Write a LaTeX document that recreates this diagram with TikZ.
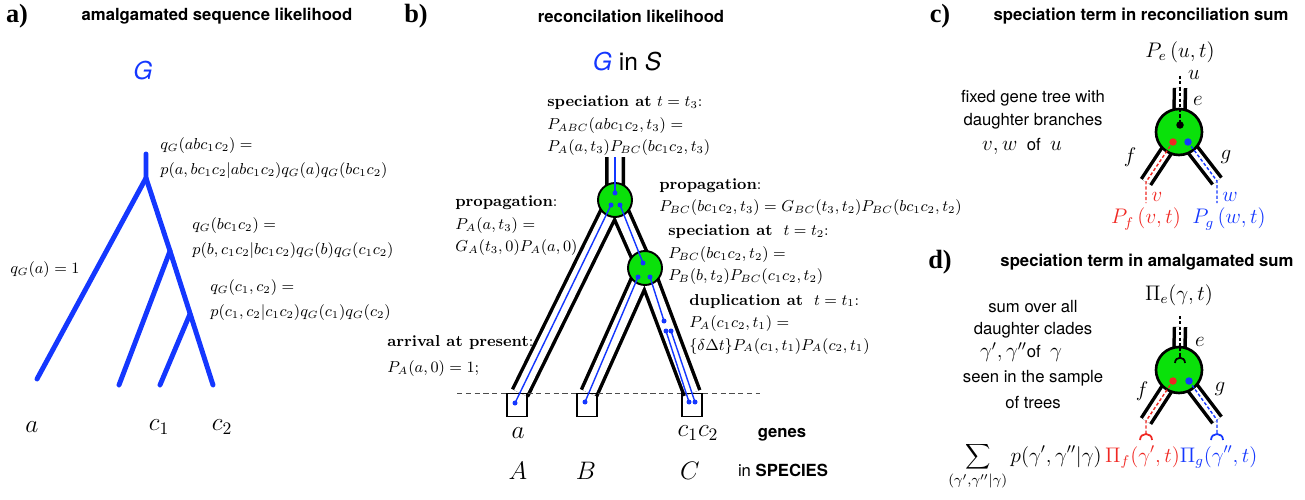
\documentclass[tikz,border=0pt]{standalone}
\usepackage{fontspec}
\newfontfamily\hv{TeX Gyre Heros}
\newfontfamily\tms{Liberation Serif}
\definecolor{gblue}{RGB}{20,55,255}
\definecolor{gred}{RGB}{240,40,35}
\definecolor{sgreen}{RGB}{10,225,10}
\begin{document}
\begin{tikzpicture}[x=0.02cm,y=-0.02cm,
  panel/.style={font=\tms\bfseries\fontsize{15}{18}\selectfont, inner sep=0pt},
  head/.style={font=\hv\bfseries\fontsize{9.5}{11}\selectfont, inner sep=0pt},
  sans/.style={font=\hv\fontsize{9.5}{11}\selectfont, inner sep=0pt},
  eqa/.style={font=\fontsize{9.2}{14.2}\selectfont, align=left, anchor=west, inner sep=0pt},
  eqb/.style={font=\fontsize{9}{12.8}\selectfont, align=left, anchor=west, inner sep=0pt},
  big/.style={font=\fontsize{12}{14}\selectfont, inner sep=0pt},
  leaf/.style={font=\fontsize{14}{16}\selectfont, inner sep=0pt},
  gtree/.style={gblue, line width=2.8pt, line cap=round, line join=round},
  tubeout/.style={line width=0.4cm, line join=round},
  tubein/.style={white, line width=0.26cm, line join=round},
  ctubeout/.style={line width=0.29cm},
  ctubein/.style={white, line width=0.15cm},
  gline/.style={gblue, line width=0.8pt},
  gdot/.style={circle, fill=gblue, inner sep=0pt, minimum size=0.1cm},
  cdot/.style={circle, inner sep=0pt, minimum size=0.15cm},
  dline/.style={line width=0.8pt, dash pattern=on 1.8pt off 1.2pt},
  snode/.style={circle, draw, line width=1.1pt, fill=sgreen, minimum size=0.68cm, inner sep=0pt},
  cnode/.style={circle, draw, line width=1.5pt, fill=sgreen, minimum size=0.92cm, inner sep=0pt},
  leafbox/.style={draw, line width=1.1pt, minimum width=0.4cm, minimum height=0.46cm, inner sep=0pt}]
\useasboundingbox (0,0) rectangle (1305,500);
\node[panel] (pa) at (17,16) {a)};
\node[head] (ta) at (217,16) {amalgamated sequence likelihood};
\node[font=\hv\itshape\fontsize{14}{16}\selectfont, text=gblue, inner sep=0pt] (gA) at (143,71) {G};
\coordinate (aTop) at (146,154);
\coordinate (aRoot) at (146,178);
\coordinate (aA) at (37,379);
\coordinate (aBC) at (170,251);
\coordinate (aB) at (119,385);
\coordinate (aC) at (190,314);
\coordinate (aC1) at (160,385);
\coordinate (aC2) at (213,385);
\draw[gtree] (aTop) -- (aRoot) -- (aA);
\draw[gtree] (aRoot) -- (aBC) -- (aB);
\draw[gtree] (aBC) -- (aC2);
\draw[gtree] (aC) -- (aC1);
\node[eqa] (qroot) at (160,158) {$q_G(abc_1c_2) =$\\$p(a,bc_1c_2|abc_1c_2)q_G(a)q_G(bc_1c_2)$};
\node[eqa] (qbc) at (192,238) {$q_G(bc_1c_2) =$\\$p(b,c_1c_2|bc_1c_2)q_G(b)q_G(c_1c_2)$};
\node[eqa] (qc) at (210,300) {$q_G(c_1,c_2) =$\\$p(c_1,c_2|c_1c_2)q_G(c_1)q_G(c_2)$};
\node[eqa] (qa) at (10,270) {$q_G(a) = 1$};
\node[leaf] (la) at (32,427) {$a$};
\node[leaf] (lc1) at (159,427) {$c_1$};
\node[leaf] (lc2) at (222,427) {$c_2$};
\node[panel] (pb) at (416,16) {b)};
\node[head] (tb) at (631,16) {reconcilation likelihood};
\node[font=\hv\fontsize{14}{16}\selectfont, inner sep=0pt] (gs) at (627,62) {\textcolor{gblue}{\itshape G} in \itshape S};
\coordinate (r0) at (615,157);
\coordinate (s1) at (615,200);
\coordinate (s2) at (645,268);
\coordinate (eA) at (520,393);
\coordinate (eB) at (589,393);
\coordinate (eC) at (692,393);
\coordinate (now0) at (457,393);
\coordinate (now1) at (760,393);
\draw[tubeout] (r0) -- (s1) -- (eA) (s1) -- (s2) -- (eB) (s2) -- (eC);
\draw[tubein] (r0) -- (s1) -- (eA) (s1) -- (s2) -- (eB) (s2) -- (eC);
\draw[densely dashed, black!70, line width=0.5pt] (now0) -- (now1);
\node[snode] (n1) at (s1) {};
\node[snode] (n2) at (s2) {};
\node[leafbox] (bA) at (517,405) {};
\node[leafbox] (bB) at (587,405) {};
\node[leafbox] (bC) at (692,405) {};
\node[gdot] (d1) at (615,193) {};
\node[gdot] (d2) at (611,205) {};
\node[gdot] (d3) at (620,205) {};
\node[gdot] (dA) at (515,403) {};
\node[gdot] (d4) at (643,263) {};
\node[gdot] (d5) at (638,277) {};
\node[gdot] (d6) at (650,277) {};
\node[gdot] (dB) at (585,402) {};
\node[gdot] (d7) at (664,321) {};
\node[gdot] (d8) at (666,331) {};
\node[gdot] (d9) at (671,331) {};
\node[gdot] (dC1) at (689,402) {};
\node[gdot] (dC2) at (695,402) {};
\draw[gline] (r0) -- (d1.center);
\draw[gline] (d2.center) -- (dA.center);
\draw[gline] (d3.center) -- (d4.center);
\draw[gline] (d5.center) -- (dB.center);
\draw[gline] (d6.center) -- (d7.center);
\draw[gline] (d8.center) -- (dC1.center);
\draw[gline] (d9.center) -- (dC2.center);
\node[eqb] (spec3) at (547,126) {\textbf{speciation at} $t=t_3$:\\$P_{ABC}(abc_1c_2,t_3) =$\\$P_A(a,t_3)P_{BC}(bc_1c_2,t_3)$};
\node[eqb] (propA) at (455,226) {\textbf{propagation}:\\$P_A(a,t_3) =$\\$G_A(t_3,0)P_A(a,0)$};
\node[eqb] (propBC) at (659,197) {\textbf{propagation}:\\$P_{BC}(bc_1c_2,t_3) = G_{BC}(t_3,t_2)P_{BC}(bc_1c_2,t_2)$};
\node[eqb] (spec2) at (668,255) {\textbf{speciation at}\ \ $t=t_2$:\\$P_{BC}(bc_1c_2,t_2) =$\\$P_B(b,t_2)P_{BC}(c_1c_2,t_2)$};
\node[eqb] (dup1) at (689,324) {\textbf{duplication at}\ \ $t=t_1$:\\$P_A(c_1c_2,t_1) =$\\$\{\delta\Delta t\}P_A(c_1,t_1)P_A(c_2,t_1)$};
\node[eqb, font=\fontsize{9}{15.3}\selectfont] (arr) at (387,356) {\textbf{arrival at present}:\\$P_A(a,0) = 1;$};
\node[leaf] (ga) at (518,433) {$a$};
\node[leaf] (gc) at (698,433) {$c_1c_2$};
\node[head] (genes) at (782,435) {genes};
\node[leaf] (spA) at (518,471) {$A$};
\node[leaf] (spB) at (586,471) {$B$};
\node[leaf] (spC) at (690,471) {$C$};
\node[sans] (insp) at (783,470) {in \bfseries SPECIES};
\node[panel] (pc) at (940,16) {c)};
\node[head] (tc) at (1141,16) {speciation term in reconciliation sum};
\coordinate (cTop) at (1180,88);
\coordinate (cMid) at (1179,132);
\coordinate (cF) at (1146,182);
\coordinate (cG) at (1217,181);
\coordinate (cuTop) at (1180,76);
\coordinate (cvEnd) at (1146,203);
\coordinate (cwEnd) at (1217,203);
\draw[ctubeout] (cTop) -- (cMid) (cMid) -- (cF) (cMid) -- (cG);
\draw[ctubein] (cTop) -- (cMid) (cMid) -- (cF) (cMid) -- (cG);
\draw[dline] (cuTop) -- (cTop);
\node[cnode] (cS) at (cMid) {};
\node[cdot, fill=black] (cu) at (1180,125) {};
\node[cdot, fill=gred] (cv) at (1173,142) {};
\node[cdot, fill=gblue] (cw) at (1188,142) {};
\draw[dline] (cTop) -- (cu.center);
\draw[dline, gred] (cv.center) -- (cF) -- (cvEnd);
\draw[dline, gblue] (cw.center) -- (cG) -- (cwEnd);
\node[big] (cPe) at (1180,52) {$P_e\,(u,t)$};
\node[big] (cul) at (1194,75) {$u$};
\node[big] (cel) at (1198,101) {$e$};
\node[big] (cfl) at (1130,157) {$f$};
\node[big] (cgl) at (1226,157) {$g$};
\node[big, text=gred] (cvl) at (1157,197) {$v$};
\node[big, text=gblue] (cwl) at (1230,197) {$w$};
\node[big, text=gred] (cPf) at (1146,219) {$P_f\,(v,t)$};
\node[big, text=gblue] (cPg) at (1229,219) {$P_g\,(w,t)$};
\node[sans] (ct1) at (1033,98) {fixed gene tree with};
\node[sans] (ct2) at (1033,121) {daughter branches};
\node[sans] (ct3) at (1022,146) {{\fontsize{12}{14}\selectfont$v,w$}\ \ of\ \ {\fontsize{12}{14}\selectfont$u$}};
\node[panel] (pd) at (940,262) {d)};
\node[head] (td) at (1147,262) {speciation term in amalgamated sum};
\coordinate (dTop) at (1180,327);
\coordinate (dMid) at (1179,370);
\coordinate (dF) at (1146,421);
\coordinate (dG) at (1217,420);
\coordinate (duTop) at (1180,316);
\coordinate (dcup) at (1180,358);
\coordinate (dvEnd) at (1146,434);
\coordinate (dwEnd) at (1217,434);
\draw[ctubeout] (dTop) -- (dMid) (dMid) -- (dF) (dMid) -- (dG);
\draw[ctubein] (dTop) -- (dMid) (dMid) -- (dF) (dMid) -- (dG);
\draw[dline] (duTop) -- (dTop);
\node[cnode] (dS) at (dMid) {};
\node[cdot, fill=gred] (dv) at (1173,381) {};
\node[cdot, fill=gblue] (dw) at (1189,381) {};
\draw[dline] (dTop) -- (dcup);
\draw[line width=1pt] (1175,363) .. controls (1175,356) and (1185,356) .. (1185,363);
\draw[dline, gred] (dv.center) -- (dF) -- (dvEnd);
\draw[dline, gblue] (dw.center) -- (dG) -- (dwEnd);
\draw[line width=1pt, gred] (1140,440) .. controls (1140,432) and (1152,432) .. (1152,440);
\draw[line width=1pt, gblue] (1211,440) .. controls (1211,432) and (1223,432) .. (1223,440);
\node[big] (dPi) at (1179,295) {$\Pi_e(\gamma,t)$};
\node[big] (del) at (1200,342) {$e$};
\node[big] (dfl) at (1142,391) {$f$};
\node[big] (dgl) at (1220,389) {$g$};
\node[sans] (dt1) at (1033,307) {sum over all};
\node[sans] (dt2) at (1033,330) {daughter clades};
\node[sans] (dt3) at (1021,352) {{\fontsize{12}{14}\selectfont$\gamma',\gamma''$}of\ \ {\fontsize{12}{14}\selectfont$\gamma$}};
\node[sans] (dt4) at (1033,378) {seen in the sample};
\node[sans] (dt5) at (1033,403) {of trees};
\node[big, anchor=base west] (dsum) at (948,462) {$\displaystyle\sum_{(\gamma',\gamma''|\gamma)} p(\gamma',\gamma''|\gamma)\,\textcolor{gred}{\Pi_f(\gamma',t)}\textcolor{gblue}{\Pi_g(\gamma'',t)}$};
\end{tikzpicture}
\end{document}
